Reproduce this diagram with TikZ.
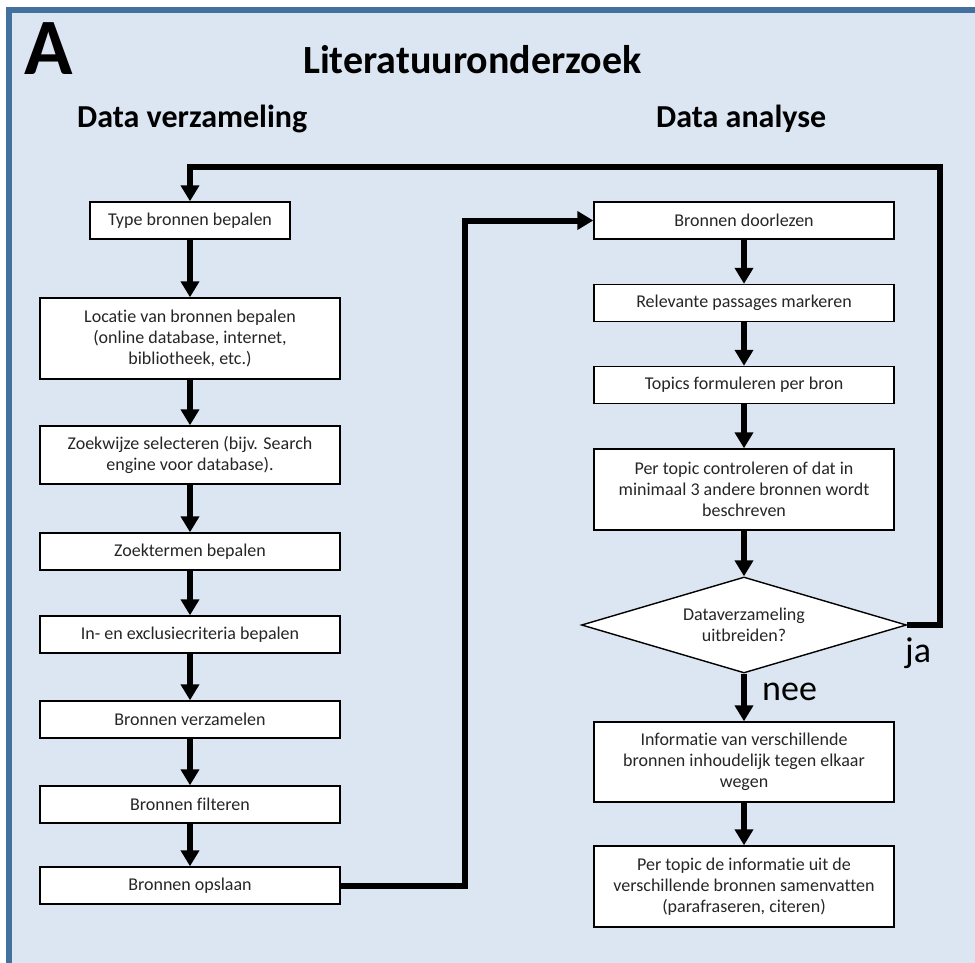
\documentclass[tikz,border=0pt]{standalone}
\usepackage{fontspec}
\setmainfont{Carlito}[Ligatures=NoCommon]
\usepackage{tikz}
\usetikzlibrary{positioning,arrows.meta,shapes.geometric}

\definecolor{paneelblauw}{HTML}{DCE6F2}
\definecolor{paneelrand}{HTML}{41719C}
\definecolor{tekstgrijs}{HTML}{262626}

\begin{document}
\begin{tikzpicture}[x=1pt,y=-1pt]
            \tikzset{
                stap/.style={draw,fill=white,line width=1.4pt,minimum width=300pt,minimum height=37pt,
                    inner sep=2pt,align=center,text=tekstgrijs,font=\fontsize{18}{21}\selectfont},
                keuze/.style={stap,diamond,aspect=3.39,minimum width=325pt,minimum height=96pt,inner sep=0pt},
                pijl/.style={line width=6pt,-{Triangle[width=18pt,length=16pt]}},
                kop/.style={anchor=base west,inner sep=0pt,font=\bfseries\fontsize{32}{38}\selectfont},}
            \useasboundingbox (0,0) rectangle (975,963);
            \clip (0,0) rectangle (975,963);
            \fill[white] (0,0) rectangle (975,963);
            \filldraw[fill=paneelblauw,draw=paneelrand,line width=6pt] (9,10) rectangle (995,995);
            % koppen
            \node[kop,font=\bfseries\fontsize{80}{82}\selectfont] (letter) at (24,75) {A};
            \node[kop,font=\bfseries\fontsize{40}{46}\selectfont] (titel) at (303,74) {Literatuuronderzoek};
            \node[kop] (links) at (77,128) {Data verzameling};
            \node[kop] (rechts) at (656,128) {Data analyse};
            % data verzameling
            \node[stap,minimum width=200pt] (type) at (190,220.5) {Type bronnen bepalen};
            \node[stap,minimum height=81pt] (locatie) at (190,338.5) {Locatie van bronnen bepalen\\(online database, internet,\\bibliotheek, etc.)};
            \node[stap,minimum height=58pt] (zoekwijze) at (190,455) {Zoekwijze selecteren (bijv. Search\\engine voor database).};
            \node[stap] (zoektermen) at (190,551.5) {Zoektermen bepalen};
            \node[stap] (criteria) at (190,634.5) {In- en exclusiecriteria bepalen};
            \node[stap] (verzamelen) at (190,719.5) {Bronnen verzamelen};
            \node[stap] (filteren) at (190,804.5) {Bronnen filteren};
            \node[stap] (opslaan) at (190,885.5) {Bronnen opslaan};
            % data analyse
            \node[stap] (doorlezen) at (744,220.5) {Bronnen doorlezen};
            \node[stap] (markeren) at (744,303) {Relevante passages markeren};
            \node[stap] (topics) at (744,385) {Topics formuleren per bron};
            \node[stap,minimum height=81pt] (controle) at (744,489.5) {Per topic controleren of dat in\\minimaal 3 andere bronnen wordt\\beschreven};
            \node[keuze] (uitbreiden) at (744,625) {Dataverzameling\\uitbreiden?};
            \node[stap,minimum height=80pt] (wegen) at (744,762) {Informatie van verschillende\\bronnen inhoudelijk tegen elkaar\\wegen};
            \node[stap,minimum height=81pt] (samenvatten) at (744,886.5) {Per topic de informatie uit de\\verschillende bronnen samenvatten\\(parafraseren, citeren)};
            % pijlen
            \foreach \van/\naar in {type/locatie,locatie/zoekwijze,zoekwijze/zoektermen,zoektermen/criteria,
                criteria/verzamelen,verzamelen/filteren,filteren/opslaan,doorlezen/markeren,markeren/topics,
                topics/controle,controle/uitbreiden,uitbreiden/wegen,wegen/samenvatten}
                \draw[pijl] (\van) -- (\naar);
            \coordinate (knik) at (465,550);
            \coordinate (lus) at (940,167);
            \draw[pijl] (opslaan.east) -| (knik) |- (doorlezen.west);
            \draw[pijl] (uitbreiden.east) -| (lus) -| (type.north);
            \node[anchor=base west,inner sep=0pt,font=\fontsize{36}{40}\selectfont] (nee) at (762,700) {nee};
            \node[anchor=base west,inner sep=0pt,font=\fontsize{36}{40}\selectfont] (ja) at (905,662) {ja};
        \end{tikzpicture}
\end{document}
